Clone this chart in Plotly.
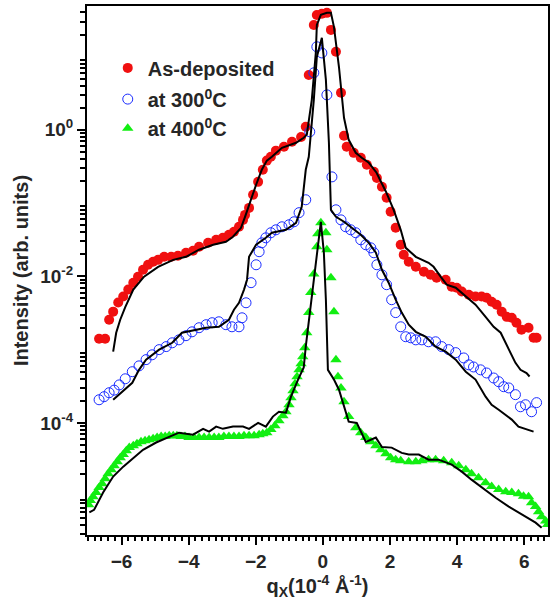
import plotly.graph_objects as go

# As-deposited (red dots)
dep_q = [-6.67, -6.49, -6.37, -6.25, -6.10, -5.95, -5.80, -5.65, -5.51, -5.36,
         -5.21, -5.06, -4.91, -4.73, -4.52, -4.32, -4.08, -3.87, -3.69, -3.42,
         -3.18, -2.98, -2.80, -2.65, -2.50, -2.38, -2.32, -2.20, -2.08, -1.93,
         -1.79, -1.67, -1.55, -1.40, -1.16, -0.92, -0.65, -0.51, -0.42, -0.27,
         -0.18, -0.03, 0.12, 0.24, 0.39, 0.54, 0.63, 0.71, 0.92, 1.13,
         1.31, 1.52, 1.61, 1.76, 1.90, 2.02, 2.17, 2.32, 2.41, 2.56,
         2.77, 3.01, 3.21, 3.39, 3.66, 3.84, 3.99, 4.14, 4.35, 4.55,
         4.73, 4.88, 5.03, 5.18, 5.33, 5.48, 5.63, 5.77, 5.92, 6.13,
         6.28, 6.37]
dep_i = [1.41e-3, 1.41e-3, 2.56e-3, 3.3e-3, 4.4e-3, 5.3e-3, 6.6e-3, 8.2e-3, 9.9e-3, 0.0123,
         0.0144, 0.0158, 0.0168, 0.0185, 0.0185, 0.0191, 0.021, 0.0224, 0.0253, 0.0287,
         0.0316, 0.0336, 0.037, 0.0406, 0.0475, 0.059, 0.069, 0.086, 0.130, 0.195,
         0.285, 0.38, 0.428, 0.52, 0.586, 0.686, 0.80, 1.10, 5.6, 27,
         37, 38.3, 39.5, 23.1, 11.6, 3.2, 0.83, 0.586, 0.485, 0.415,
         0.333, 0.267, 0.22, 0.167, 0.118, 0.076, 0.046, 0.027, 0.0197, 0.0158,
         0.0135, 0.0116, 0.0105, 0.0096, 0.009, 0.0072, 0.007, 0.0062, 0.0056, 0.0053,
         0.0053, 0.0051, 0.0045, 0.0041, 0.0033, 0.0028, 0.00272, 0.00233, 0.00187, 0.00199,
         0.00145, 0.00145]

fit_dep_q = [-6.25, -6.16, -6.04, -5.89, -5.65, -5.33, -4.91, -4.46, -4.08, -3.69,
             -3.27, -2.89, -2.68, -2.44, -2.32, -2.20, -1.99, -1.82, -1.67, -1.52,
             -1.22, -0.80, -0.57, -0.48, -0.33, -0.21, -0.18, -0.06, 0.12, 0.24,
             0.33, 0.48, 0.63, 0.77, 0.98, 1.16, 1.37, 1.60, 1.88, 2.11,
             2.32, 2.47, 2.77, 3.15, 3.30, 3.51, 3.69, 3.96, 4.26, 4.55,
             4.85, 5.09, 5.30, 5.54, 5.74, 5.89, 6.07, 6.16]
fit_dep_i = [0.00094, 0.0017, 0.00256, 0.0038, 0.0066, 0.0099, 0.0135, 0.0168, 0.0185, 0.0231,
             0.027, 0.0297, 0.0347, 0.046, 0.065, 0.095, 0.178, 0.285, 0.38, 0.428,
             0.568, 0.665, 0.78, 0.855, 2.57, 11.2, 27, 37, 39.5, 39.5,
             25.4, 7.2, 1.46, 0.73, 0.485, 0.415, 0.355, 0.26, 0.143, 0.081,
             0.0432, 0.0245, 0.0185, 0.0153, 0.0135, 0.0099, 0.0077, 0.0070, 0.0053, 0.0041,
             0.0028, 0.00205, 0.0017, 0.0010, 0.00066, 0.00053, 0.00048, 0.00043]

# at 300 C (blue open circles)
t300_q = [-6.67, -6.52, -6.37, -6.22, -6.07, -5.89, -5.68, -5.48, -5.27, -5.09,
          -4.88, -4.67, -4.49, -4.29, -4.08, -3.90, -3.69, -3.48, -3.30, -3.10,
          -2.89, -2.71, -2.50, -2.41, -2.29, -2.14, -1.99, -1.90, -1.82, -1.70,
          -1.55, -1.40, -1.22, -1.01, -0.86, -0.71, -0.51, -0.39, -0.27, -0.18,
          -0.03, 0.12, 0.27, 0.39, 0.54, 0.68, 0.83, 0.98, 1.13, 1.28,
          1.43, 1.52, 1.61, 1.76, 1.90, 2.05, 2.17, 2.32, 2.47, 2.62,
          2.77, 2.95, 3.15, 3.36, 3.54, 3.75, 3.96, 4.20, 4.35, 4.49,
          4.70, 4.88, 5.09, 5.24, 5.39, 5.54, 5.74, 5.89, 6.04, 6.22,
          6.37]
t300_i = [2.07e-4, 2.28e-4, 2.58e-4, 2.8e-4, 3.3e-4, 4.0e-4, 5.0e-4, 6.0e-4, 7.3e-4, 8.5e-4,
          1.0e-3, 1.1e-3, 1.24e-3, 1.36e-3, 1.55e-3, 1.75e-3, 1.99e-3, 2.19e-3, 2.33e-3, 2.4e-3,
          2.19e-3, 2.05e-3, 2.05e-3, 2.72e-3, 4.36e-3, 8.2e-3, 0.0144, 0.0217, 0.0287, 0.0336,
          0.0394, 0.0432, 0.0475, 0.0506, 0.0556, 0.074, 0.111, 0.94, 6.0, 13.6,
          11.2, 3.0, 0.228, 0.081, 0.059, 0.0475, 0.0432, 0.0394, 0.0316, 0.027,
          0.0245, 0.021, 0.0144, 0.0105, 0.0077, 0.0048, 0.0032, 0.00205, 0.0015, 0.00145,
          0.00136, 0.00136, 0.00128, 0.00128, 0.0011, 0.0010, 0.00091, 0.00077, 0.00062, 0.00058,
          0.00053, 0.00048, 0.00041, 0.000365, 0.000312, 0.0003, 0.000243, 0.000166, 0.000177, 0.000142,
          0.000189]

fit_300_q = [-6.25, -6.07, -5.86, -5.68, -5.48, -5.27, -4.88, -4.49, -4.20, -3.78,
             -3.48, -3.10, -2.80, -2.65, -2.50, -2.35, -2.26, -2.20, -1.99, -1.70,
             -1.52, -1.10, -0.80, -0.63, -0.51, -0.42, -0.27, -0.18, -0.03, 0.09,
             0.18, 0.24, 0.39, 0.63, 0.86, 1.13, 1.37, 1.58, 1.76, 1.96,
             2.17, 2.35, 2.56, 2.77, 3.07, 3.36, 3.66, 3.96, 4.26, 4.55,
             4.85, 5.03, 5.24, 5.63, 5.83, 6.28]
fit_300_i = [2.07e-4, 2.43e-4, 3.0e-4, 3.53e-4, 5.3e-4, 7.3e-4, 1.0e-3, 1.24e-3, 1.7e-3, 1.87e-3,
             1.99e-3, 2.05e-3, 2.56e-3, 3.5e-3, 4.36e-3, 6.6e-3, 9.0e-3, 0.0185, 0.027, 0.0336,
             0.0394, 0.0432, 0.0538, 0.089, 0.285, 0.428, 2.57, 9.9, 18, 4.8,
             0.665, 0.081, 0.065, 0.0556, 0.046, 0.037, 0.0287, 0.021, 0.0123, 0.0082,
             0.0048, 0.0032, 0.00219, 0.00175, 0.0015, 0.0011, 0.00094, 0.00073, 0.0005, 0.00039,
             0.000228, 0.000177, 0.000151, 0.000111, 8.9e-5, 7.6e-5]

# at 400 C (green triangles)
t400_q = [-6.98, -6.93, -6.85, -6.76, -6.67, -6.58, -6.49, -6.40, -6.31, -6.22,
          -6.13, -6.04, -5.95, -5.86, -5.77, -5.65, -5.54, -5.42, -5.30, -5.18,
          -5.06, -4.94, -4.82, -4.70, -4.58, -4.46, -4.35, -4.23, -4.11, -3.99,
          -3.84, -3.69, -3.54, -3.39, -3.24, -3.10, -2.95, -2.80, -2.65, -2.50,
          -2.35, -2.20, -2.05, -1.90, -1.79, -1.67, -1.55, -1.43, -1.31, -1.19,
          -1.10, -1.01, -0.95, -0.89, -0.83, -0.77, -0.71, -0.65, -0.60, -0.54,
          -0.48, -0.42, -0.36, -0.27, -0.18, -0.15, -0.06, 0.09, 0.12, 0.24,
          0.33, 0.39, 0.45, 0.54, 0.63, 0.77, 0.98, 1.13, 1.28, 1.43,
          1.58, 1.73, 1.88, 2.02, 2.17, 2.32, 2.56, 2.77, 2.95, 3.15,
          3.36, 3.60, 3.84, 4.05, 4.26, 4.43, 4.64, 4.85, 5.03, 5.24,
          5.45, 5.63, 5.83, 5.98, 6.13, 6.22, 6.34, 6.43, 6.52, 6.64,
          6.70]
t400_i = [7.66e-6, 8.7e-6, 9.8e-6, 1.12e-5, 1.31e-5, 1.48e-5, 1.73e-5, 2.03e-5, 2.3e-5, 2.61e-5,
          2.96e-5, 3.35e-5, 3.7e-5, 4.18e-5, 4.6e-5, 4.89e-5, 5.2e-5, 5.55e-5, 5.71e-5, 5.9e-5,
          6.08e-5, 6.3e-5, 6.5e-5, 6.5e-5, 6.7e-5, 6.7e-5, 6.7e-5, 6.5e-5, 6.5e-5, 6.3e-5,
          6.3e-5, 6.3e-5, 6.3e-5, 6.3e-5, 6.3e-5, 6.3e-5, 6.5e-5, 6.5e-5, 6.5e-5, 6.5e-5,
          6.7e-5, 6.7e-5, 6.7e-5, 6.9e-5, 7.13e-5, 7.35e-5, 8.1e-5, 9.16e-5, 1.07e-4, 1.25e-4,
          1.42e-4, 1.77e-4, 2.21e-4, 2.75e-4, 3.43e-4, 4.27e-4, 5.3e-4, 6.42e-4, 8.0e-4, 1.06e-3,
          1.7e-3, 3.2e-3, 6.0e-3, 0.0108, 0.0253, 0.0381, 0.0538, 0.0394, 0.0231, 0.0096,
          0.0033, 7.3e-4, 4.27e-4, 3.0e-4, 1.95e-4, 1.22e-4, 8.6e-5, 7.35e-5, 6.3e-5, 5.55e-5,
          4.89e-5, 4.3e-5, 3.8e-5, 3.35e-5, 3.15e-5, 3.05e-5, 2.96e-5, 2.96e-5, 3.05e-5, 3.15e-5,
          3.15e-5, 3.05e-5, 2.86e-5, 2.61e-5, 2.3e-5, 2.03e-5, 1.79e-5, 1.53e-5, 1.35e-5, 1.23e-5,
          1.15e-5, 1.12e-5, 1.08e-5, 1.0e-5, 9.8e-6, 8.1e-6, 7.2e-6, 6.15e-6, 5.25e-6, 4.6e-6,
          4.1e-6]

fit_400_q = [-6.96, -6.82, -6.55, -6.25, -5.95, -5.65, -5.36, -4.97, -4.58, -4.29,
             -3.87, -3.57, -3.39, -3.18, -2.98, -2.68, -2.38, -2.20, -1.93, -1.70,
             -1.49, -1.31, -1.10, -0.95, -0.74, -0.57, -0.51, -0.45, -0.33, -0.18,
             -0.06, 0.03, 0.09, 0.15, 0.33, 0.48, 0.63, 0.77, 1.01, 1.28,
             1.58, 1.76, 2.05, 2.35, 2.56, 2.86, 3.15, 3.45, 3.84, 4.14,
             4.43, 4.73, 5.15, 5.54, 5.92, 6.34, 6.52]
fit_400_i = [6.0e-6, 6.5e-6, 1.12e-5, 1.85e-5, 2.53e-5, 3.35e-5, 4.3e-5, 5.4e-5, 6.5e-5, 7.35e-5,
             6.9e-5, 8.3e-5, 7.6e-5, 8.9e-5, 8.3e-5, 8.9e-5, 8.9e-5, 8.3e-5, 1.0e-4, 8.9e-5,
             1.22e-4, 1.42e-4, 1.38e-4, 2.28e-4, 3.9e-4, 5.7e-4, 1.1e-3, 1.87e-3, 4.8e-3, 0.021,
             0.0556, 0.021, 4.8e-3, 5.3e-4, 3.9e-4, 2.84e-4, 1.66e-4, 1.04e-4, 1.0e-4, 5.5e-5,
             6.3e-5, 4.7e-5, 4.6e-5, 3.9e-5, 3.7e-5, 3.7e-5, 3.15e-5, 3.15e-5, 2.69e-5, 2.16e-5,
             1.68e-5, 1.31e-5, 9.5e-6, 7.2e-6, 5.6e-6, 4.35e-6, 3.7e-6]

x_ticks = [-6, -4, -2, 0, 2, 4, 6]
y_ticks = [1e-4, 1e-2, 1e0]
y_labels = ["10<sup>-4</sup>", "10<sup>-2</sup>", "10<sup>0</sup>"]
y_odd_ticks = [1e-5, 1e-3, 1e-1, 1e1]

FONT = "Liberation Sans, Arial, sans-serif"
TXT = "#262626"
Y_RANGE = [-5.53, 1.69]

fig = go.Figure()
fig.add_trace(go.Scatter(x=dep_q, y=dep_i, mode="markers", name="As-deposited",
                         marker=dict(symbol="circle", size=10, color="#f01010"),
                         legend="legend"))
fig.add_trace(go.Scatter(x=t300_q, y=t300_i, mode="markers", name="at 300<sup>0</sup>C",
                         marker=dict(symbol="circle-open", size=10, color="#1a2cff",
                                     line=dict(width=1)),
                         legend="legend2"))
fig.add_trace(go.Scatter(x=t400_q, y=t400_i, mode="markers", name="at 400<sup>0</sup>C",
                         marker=dict(symbol="triangle-up", size=10, color="#12ee12"),
                         legend="legend3"))
for fq, fi in [(fit_dep_q, fit_dep_i), (fit_300_q, fit_300_i), (fit_400_q, fit_400_i)]:
    fig.add_trace(go.Scatter(x=fq, y=fi, mode="lines", showlegend=False,
                             line=dict(color="black", width=2)))

def leg(y):
    return dict(x=0.045, y=y, xanchor="left", yanchor="middle", bgcolor="rgba(0,0,0,0)",
                font=dict(family=FONT, size=20, color=TXT, weight="bold"))

fig.update_layout(
    width=550, height=602,
    margin=dict(l=87, r=0, t=6, b=67),
    plot_bgcolor="white", paper_bgcolor="white",
    font=dict(family=FONT, color=TXT, weight="bold"),
    legend=leg(0.883), legend2=leg(0.824), legend3=leg(0.769),
    xaxis=dict(
        range=[-7.03, 6.71], showgrid=False, zeroline=False,
        showline=True, linewidth=2, linecolor="black", mirror=True,
        ticks="outside", ticklen=8, tickwidth=2, tickcolor="black",
        tickvals=x_ticks, tickfont=dict(size=19, color=TXT, weight="bold"),
        minor=dict(dtick=0.2, tick0=0, ticks="outside", ticklen=4, tickwidth=1.5, tickcolor="black"),
        title=dict(text="q<sub>X</sub>(10<sup>-4</sup> Å<sup>-1</sup>)", standoff=2,
                   font=dict(size=20, color=TXT, weight="bold")),
    ),
    yaxis=dict(
        type="log", range=Y_RANGE, showgrid=False, zeroline=False,
        showline=True, linewidth=2, linecolor="black", mirror=True,
        ticks="outside", ticklen=8, tickwidth=2, tickcolor="black",
        tickmode="array", tickvals=y_ticks, ticktext=y_labels,
        tickfont=dict(size=19, color=TXT, weight="bold"),
        minor=dict(tickmode="array",
                   tickvals=[m * 10.0 ** d for d in range(-6, 2) for m in range(2, 10)],
                   ticks="outside", ticklen=5, tickwidth=1.5, tickcolor="black"),
        title=dict(text="Intensity (arb. units)", standoff=6,
                   font=dict(size=20, color=TXT, weight="bold")),
    ),
    # unlabelled long ticks at the odd decades
    yaxis2=dict(
        type="log", range=Y_RANGE, overlaying="y", anchor="x", side="left",
        showgrid=False, zeroline=False, showline=False, showticklabels=False,
        ticks="outside", ticklen=8, tickwidth=2, tickcolor="black",
        tickmode="array", tickvals=y_odd_ticks,
    ),
)

# drop the page's default body margin so the figure sits at the window's corner
fig.write_html("out.html", config={"displayModeBar": False},
               post_script="document.body.style.margin='0';")
